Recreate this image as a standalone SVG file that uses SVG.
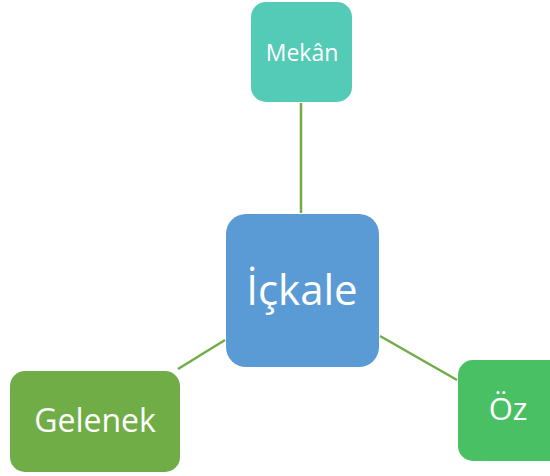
<svg xmlns="http://www.w3.org/2000/svg" width="550" height="476" viewBox="0 0 550 476">
  <style>
    .lbl { font-family: "Open Sans", "Liberation Sans", sans-serif; fill: #ffffff; text-anchor: middle; }
    .edge { stroke: #70AD47; stroke-width: 2.5; fill: none; }
  </style>
  <rect width="550" height="476" fill="#ffffff"/>
  <g id="connectors">
    <line class="edge" x1="301" y1="103" x2="301" y2="213"/>
    <line class="edge" x1="225" y1="340" x2="178" y2="369"/>
    <line class="edge" x1="380" y1="336" x2="457" y2="380"/>
  </g>
  <g id="node-mekan">
    <rect x="251" y="2" width="101" height="100" rx="15" fill="#53CBB6"/>
    <text class="lbl" x="302" y="61" font-size="23">Mekân</text>
  </g>
  <g id="node-ickale">
    <rect x="226" y="214" width="153" height="153" rx="20" fill="#5B9BD5"/>
    <text class="lbl" x="302" y="305" font-size="42">İçkale</text>
  </g>
  <g id="node-gelenek">
    <rect x="10" y="371" width="170" height="101" rx="15" fill="#70AD47"/>
    <text class="lbl" x="95" y="432" font-size="32">Gelenek</text>
  </g>
  <g id="node-oz">
    <rect x="458" y="360" width="110" height="101" rx="15" fill="#4AC065"/>
    <text class="lbl" x="508" y="420" font-size="31">Öz</text>
  </g>
</svg>
